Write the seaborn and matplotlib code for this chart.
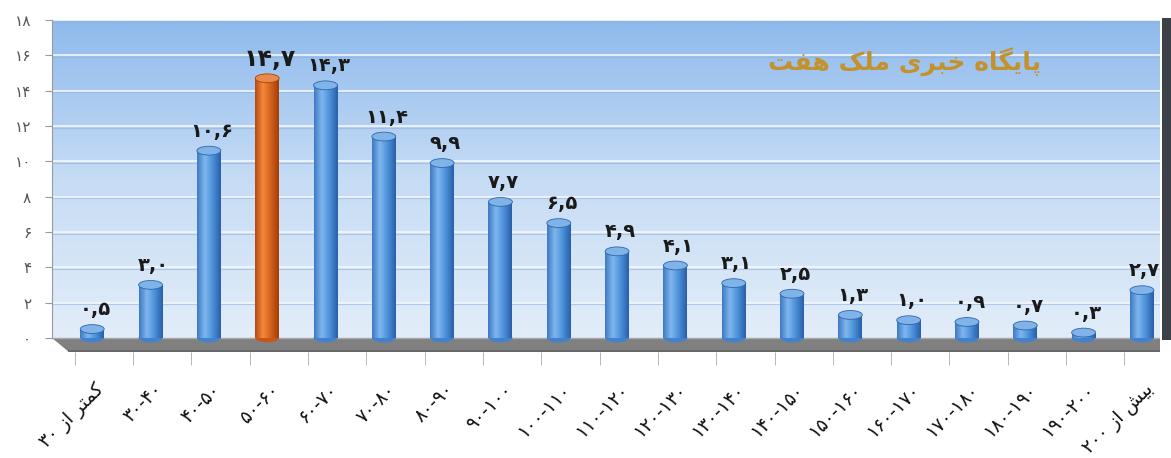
import numpy as np
import pandas as pd
import matplotlib
matplotlib.use("Agg")
import matplotlib.pyplot as plt
import matplotlib.transforms as mtransforms
from matplotlib.colors import LinearSegmentedColormap
from matplotlib.patches import Ellipse, Rectangle, Polygon
import seaborn as sns

# ---------------- data ----------------
categories = ["کمتر از ۳۰", "۳۰-۴۰", "۴۰-۵۰", "۵۰-۶۰", "۶۰-۷۰", "۷۰-۸۰", "۸۰-۹۰",
              "۹۰-۱۰۰", "۱۰۰-۱۱۰", "۱۱۰-۱۲۰", "۱۲۰-۱۳۰", "۱۳۰-۱۴۰", "۱۴۰-۱۵۰",
              "۱۵۰-۱۶۰", "۱۶۰-۱۷۰", "۱۷۰-۱۸۰", "۱۸۰-۱۹۰", "۱۹۰-۲۰۰", "بیش از ۲۰۰"]
values = [0.5, 3.0, 10.6, 14.7, 14.3, 11.4, 9.9, 7.7, 6.5, 4.9, 4.1, 3.1, 2.5,
          1.3, 1.0, 0.9, 0.7, 0.3, 2.7]
highlight = "۵۰-۶۰"
y_ticks = [0, 2, 4, 6, 8, 10, 12, 14, 16, 18]
title = "پایگاه خبری ملک هفت"

# ---------------- persian helpers ----------------
FA_DIGITS = str.maketrans("0123456789", "۰۱۲۳۴۵۶۷۸۹")
FORMS = {
    '\u0627': ('\uFE8D', '\uFE8E', None, None),
    '\u0628': ('\uFE8F', '\uFE90', '\uFE91', '\uFE92'),
    '\u067E': ('\uFB56', '\uFB57', '\uFB58', '\uFB59'),
    '\u062A': ('\uFE95', '\uFE96', '\uFE97', '\uFE98'),
    '\u062E': ('\uFEA5', '\uFEA6', '\uFEA7', '\uFEA8'),
    '\u0631': ('\uFEAD', '\uFEAE', None, None),
    '\u0632': ('\uFEAF', '\uFEB0', None, None),
    '\u0634': ('\uFEB5', '\uFEB6', '\uFEB7', '\uFEB8'),
    '\u0641': ('\uFED1', '\uFED2', '\uFED3', '\uFED4'),
    '\u06A9': ('\uFB8E', '\uFB8F', '\uFB90', '\uFB91'),
    '\u06AF': ('\uFB92', '\uFB93', '\uFB94', '\uFB95'),
    '\u0644': ('\uFEDD', '\uFEDE', '\uFEDF', '\uFEE0'),
    '\u0645': ('\uFEE1', '\uFEE2', '\uFEE3', '\uFEE4'),
    '\u0646': ('\uFEE5', '\uFEE6', '\uFEE7', '\uFEE8'),
    '\u0647': ('\uFEE9', '\uFEEA', '\uFEEB', '\uFEEC'),
    '\u06CC': ('\uFBFC', '\uFBFD', '\uFBFE', '\uFBFF'),
}


def shape_word(w):
    out = []
    n = len(w)
    for i, ch in enumerate(w):
        f = FORMS.get(ch)
        if f is None:
            out.append(ch)
            continue
        prev = FORMS.get(w[i - 1]) if i > 0 else None
        nxt = FORMS.get(w[i + 1]) if i < n - 1 else None
        jp = prev is not None and prev[2] is not None
        jn = nxt is not None and f[2] is not None
        if jp and jn:
            out.append(f[3])
        elif jp:
            out.append(f[1])
        elif jn:
            out.append(f[2])
        else:
            out.append(f[0])
    return "".join(out)


def fa(s):
    if not any(c in FORMS for c in s):
        return s
    toks = s.split(" ")
    res = []
    for t in reversed(toks):
        if any(c in FORMS for c in t):
            res.append(shape_word(t)[::-1])
        else:
            res.append(t)
    return " ".join(res)


# ---------------- figure ----------------
plt.rcParams['font.family'] = ['DejaVu Sans']
W, H = 1171, 458
fig = plt.figure(figsize=(W / 100, H / 100), dpi=100)
fig.patch.set_facecolor("white")
L, R, T, B = 52, 1160, 20, 352
ax = fig.add_axes([L / W, 1 - B / H, (R - L) / W, (B - T) / H])

df = pd.DataFrame({"cat": categories, "val": values})
colors = {c: ("#d2601c" if c == highlight else "#4a8fd8") for c in categories}
sns.barplot(data=df, x="cat", y="val", hue="cat", palette=colors, legend=False,
            width=0.41, ax=ax, zorder=3, saturation=1)

XMIN, XMAX, YMIN, YMAX = -0.69, 18.31, -0.8, 18
ax.set_xlim(XMIN, XMAX)
ax.set_ylim(YMIN, YMAX)

# wall gradient
wall = LinearSegmentedColormap.from_list("wall", ["#e2edf9", "#c6dcf5", "#8fbaed"])
grad = np.linspace(0, 1, 256).reshape(-1, 1)
ax.imshow(grad, extent=[XMIN, XMAX, 0, YMAX], origin="lower", aspect="auto",
          cmap=wall, zorder=0)
ax.set_facecolor("white")

# grid lines (wall)
for yv in y_ticks[1:]:
    ax.axhline(yv, color="#f4f8fd", lw=1.3, alpha=0.9, zorder=1)
    ax.axhline(yv - 0.09, color="#8fb0d6", lw=0.8, alpha=0.55, zorder=1)

# floor
floor = Polygon([(XMIN, 0), (XMAX, 0), (XMAX, YMIN), (XMIN + 0.3, YMIN)],
                closed=True, facecolor="#808080", edgecolor="none", zorder=2)
ax.add_patch(floor)
ax.plot([XMIN + 0.3, XMAX], [YMIN + 0.05, YMIN + 0.05], color="#686868", lw=1.5, zorder=2)
ax.plot([XMIN, XMAX], [0, 0], color="#a8a8a8", lw=1, zorder=2)

# cylinders
blue_cm = LinearSegmentedColormap.from_list("b", ["#3d78c4", "#7fb7ee", "#4a8fd8", "#2a5ea8"])
org_cm = LinearSegmentedColormap.from_list("o", ["#b8480e", "#f2893c", "#d2601c", "#a23d08"])
hgrad = np.linspace(0, 1, 256).reshape(1, -1)
for patch, cat, v in zip(ax.patches[:len(categories)], categories, values):
    x0 = patch.get_x()
    w = patch.get_width()
    h = patch.get_height()
    cm = org_cm if cat == highlight else blue_cm
    patch.set_edgecolor("none")
    ax.add_patch(Ellipse((x0 + w / 2, 0), w, 0.5, facecolor=cm(0.75), edgecolor="none", zorder=3))
    im = ax.imshow(hgrad, extent=[x0, x0 + w, 0, h], aspect="auto", cmap=cm, zorder=4)
    im.set_clip_path(patch)
    top = "#e88a4c" if cat == highlight else "#80b3e8"
    ax.add_patch(Ellipse((x0 + w / 2, h), w, 0.5, facecolor=top,
                         edgecolor=cm(0.95), lw=0.6, zorder=5))
    lbl = f"{v:.1f}".replace(".", ",").translate(FA_DIGITS)
    big = cat == highlight
    ax.text(x0 + w / 2 + 0.05, h + 1.1, lbl, ha="center", va="center",
            fontsize=17 if big else 14, fontweight="bold", color="#1a1a1a", zorder=6)

ax.set_xlim(XMIN, XMAX)
ax.set_ylim(YMIN, YMAX)

# axes styling
for s in ["top", "right", "bottom"]:
    ax.spines[s].set_visible(False)
ax.spines["left"].set_bounds(0, YMAX)
ax.spines["left"].set_color("#9a9a9a")
ax.set_yticks(y_ticks)
ax.set_yticklabels([str(t).translate(FA_DIGITS) for t in y_ticks],
                   fontsize=11, color="#555555")
ax.tick_params(axis="y", length=5, color="#9a9a9a", pad=10)
ax.set_xticks(range(len(categories)))
ax.set_xticklabels([fa(c) for c in categories], rotation=45, ha="right",
                   rotation_mode="anchor", fontsize=13.5, color="#111111")
ax.tick_params(axis="x", which="major", length=0, pad=20)
ax.set_xticks([i - 0.3 for i in range(len(categories))], minor=True)
ax.tick_params(axis="x", which="minor", length=9, color="#aaaaaa")
offset = mtransforms.ScaledTranslation(2 / 100, 0, fig.dpi_scale_trans)
for lab in ax.get_xticklabels():
    lab.set_transform(lab.get_transform() + offset)
ax.set_xlabel("")
ax.set_ylabel("")

# right side wall strip
fig.patches.append(Rectangle((1162 / W, 1 - 340 / H), 9 / W, (340 - 18) / H,
                             transform=fig.transFigure, facecolor="#3b4049",
                             edgecolor="none", zorder=0))

# title
fig.text(905 / W, 1 - 62 / H, fa(title), ha="center", va="center",
         fontsize=18, fontweight="bold", color="#c4922a")

fig.savefig("out.png", dpi=100)
